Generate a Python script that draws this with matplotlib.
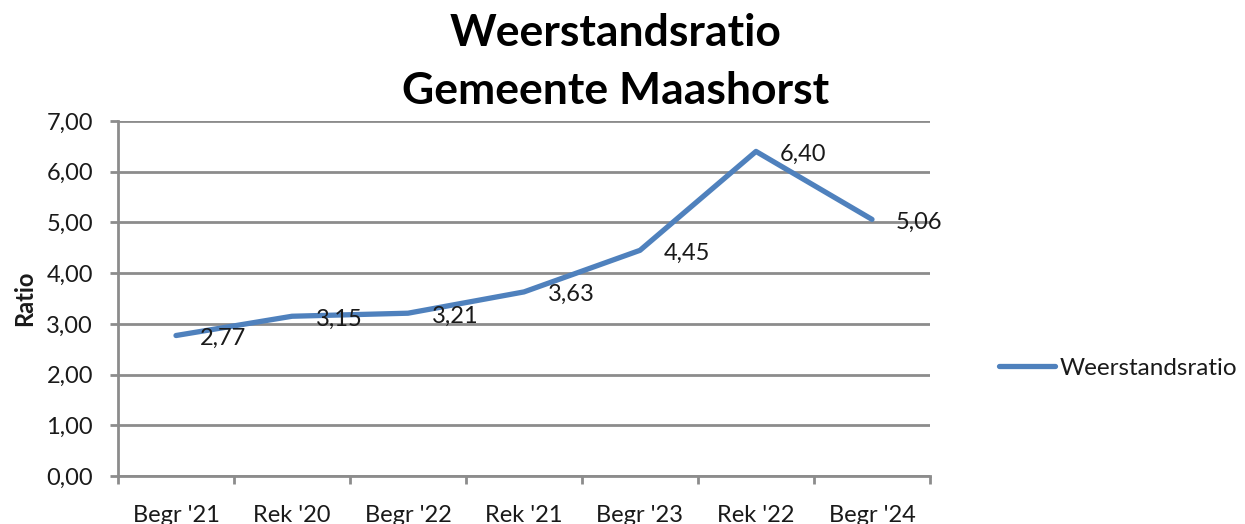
import matplotlib
matplotlib.use("Agg")
import matplotlib.pyplot as plt
import numpy as np

categories = ["Begr '21", "Rek '20", "Begr '22", "Rek '21", "Begr '23", "Rek '22", "Begr '24"]
values = [2.77, 3.15, 3.21, 3.63, 4.45, 6.40, 5.06]
labels = ["2,77", "3,15", "3,21", "3,63", "4,45", "6,40", "5,06"]
yticks = [0, 1, 2, 3, 4, 5, 6, 7]
ytick_labels = ["0,00", "1,00", "2,00", "3,00", "4,00", "5,00", "6,00", "7,00"]

plt.rcParams['font.family'] = ['Lato', 'DejaVu Sans']

W, H = 1245, 524
fs = 17
fig = plt.figure(figsize=(W/100, H/100), dpi=100)
ax = fig.add_axes([118/W, 1-476/H, (930-118)/W, (476-121)/H])

color = '#4F81BD'
grid = '#8C8C8C'
x = np.arange(len(categories))
ax.plot(x, values, color=color, lw=3.8, solid_capstyle='round', solid_joinstyle='round',
        label='Weerstandsratio', zorder=3)
for xi, v, t in zip(x, values, labels):
    ax.annotate(t, (xi, v), xytext=(17, -2), textcoords='offset points',
                ha='left', va='center', fontsize=fs, color='#1a1a1a', zorder=4)

ax.set_xlim(-0.5, len(categories)-0.5)
ax.set_ylim(0, 7)
ax.set_yticks(yticks)
ax.set_yticklabels(ytick_labels)
ax.set_xticks(x)
ax.set_xticklabels(categories)
ax.set_xticks(np.arange(-0.5, len(categories), 1), minor=True)
ax.tick_params(axis='x', which='major', length=0, pad=21, labelsize=fs, labelcolor='#1a1a1a')
ax.tick_params(axis='x', which='minor', length=6, width=2, color=grid, direction='out')
ax.tick_params(axis='y', length=6, width=2, color=grid, pad=12, labelsize=fs, labelcolor='#1a1a1a')
ax.yaxis.grid(True, color=grid, lw=2)
ax.set_axisbelow(True)
for s in ['top', 'right']:
    ax.spines[s].set_visible(False)
ax.spines['left'].set_color(grid)
ax.spines['left'].set_linewidth(2)
ax.spines['bottom'].set_color(grid)
ax.spines['bottom'].set_linewidth(2)

fig.text(25/W, 1-298/H, 'Ratio', rotation=90, ha='center', va='center',
         fontsize=17, fontweight='bold', color='#1a1a1a')

fig.text(616/W, 1-33/H, 'Weerstandsratio', ha='center', va='center',
         fontsize=32, fontweight='bold', color='black')
fig.text(616/W, 1-91/H, 'Gemeente Maashorst', ha='center', va='center',
         fontsize=32, fontweight='bold', color='black')

fig.legend(handles=ax.get_lines(), loc='center left', bbox_to_anchor=(977/W, 1-368/H),
           frameon=False, fontsize=fs+0.5, handlelength=2.3, handletextpad=0.2,
           labelcolor='#1a1a1a')

fig.savefig('out.png', dpi=100)
